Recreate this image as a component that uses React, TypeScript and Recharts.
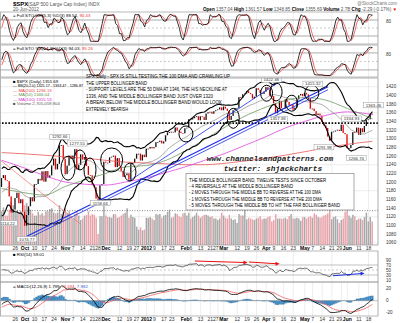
import React from "react";
import { ComposedChart, Line, Bar, XAxis, YAxis, CartesianGrid, ReferenceLine, ReferenceDot, Cell } from "recharts";

// ---------------- data (S&P 500 daily closes) ----------------
const closesAug2011 = [1286.94, 1254.05, 1260.34, 1200.07, 1199.38, 1119.46, 1172.53, 1120.76, 1172.64, 1178.81, 1204.49, 1192.76, 1193.89, 1140.65, 1123.53, 1123.82, 1162.35, 1177.6, 1159.27, 1176.8, 1210.08, 1212.92, 1218.89];
const closesSep2011 = [1204.42, 1173.97, 1165.24, 1198.62, 1185.9, 1154.23, 1162.27, 1172.87, 1188.68, 1209.11, 1216.01, 1204.09, 1202.09, 1166.76, 1129.56, 1136.43, 1162.95, 1175.38, 1151.06, 1160.4, 1131.42];
const closesOct2011 = [1099.23, 1123.95, 1144.03, 1164.97, 1155.46, 1194.89, 1195.54, 1207.25, 1203.66, 1224.58, 1200.86, 1225.38, 1209.88, 1215.39, 1238.25, 1254.19, 1229.05, 1242.0, 1284.59, 1285.09, 1253.3];
const closesNov2011 = [1218.28, 1237.9, 1261.15, 1253.23, 1261.12, 1275.92, 1229.1, 1239.7, 1263.85, 1251.78, 1257.81, 1236.91, 1216.13, 1215.65, 1192.98, 1188.04, 1161.79, 1158.67, 1192.55, 1195.19, 1246.96];
const closesDec2011 = [1244.58, 1244.28, 1257.08, 1258.47, 1261.01, 1234.35, 1255.19, 1236.47, 1225.73, 1211.82, 1215.75, 1219.66, 1205.35, 1241.3, 1243.72, 1254.0, 1265.33, 1265.43, 1249.64, 1263.02, 1257.6];
const closesJan2012 = [1277.06, 1277.3, 1281.06, 1277.81, 1280.7, 1292.08, 1292.48, 1295.5, 1289.09, 1293.67, 1308.04, 1314.5, 1315.38, 1316.0, 1314.65, 1326.06, 1318.43, 1316.33, 1313.01, 1312.41];
const closesFeb2012 = [1324.09, 1325.54, 1344.9, 1344.33, 1347.05, 1349.96, 1351.95, 1342.64, 1351.77, 1350.5, 1343.23, 1358.04, 1361.23, 1362.21, 1357.66, 1363.46, 1365.74, 1367.59, 1372.18, 1365.68];
const closesMar2012 = [1374.09, 1369.63, 1364.33, 1343.36, 1352.63, 1365.91, 1370.87, 1371.09, 1395.95, 1394.28, 1402.6, 1404.17, 1409.75, 1405.52, 1402.89, 1392.78, 1397.11, 1416.51, 1412.52, 1405.54, 1403.28, 1408.47];
const closesApr2012 = [1419.04, 1413.38, 1398.96, 1398.08, 1382.2, 1358.59, 1368.71, 1387.57, 1370.26, 1369.57, 1390.78, 1385.14, 1376.92, 1378.53, 1366.94, 1371.97, 1390.69, 1399.98, 1403.36, 1397.91];
const closesMay2012 = [1405.82, 1402.31, 1391.57, 1369.1, 1369.58, 1363.72, 1354.58, 1357.99, 1353.39, 1338.35, 1330.66, 1324.8, 1304.86, 1295.22, 1315.99, 1316.63, 1318.86, 1320.68, 1317.82, 1332.42, 1313.32, 1310.33];
const closesJun2012 = [1278.04, 1278.18, 1285.5, 1315.13, 1314.99, 1325.66, 1308.93, 1324.18, 1314.88, 1329.1, 1342.84, 1344.78, 1357.98, 1355.69];

// volume, billions
const volSep2011 = [4.2, 4.5, 4.3, 4.4, 4.6, 4.6, 4.0, 4.1, 4.3, 4.6, 5.1, 4.0, 4.0, 4.8, 5.9, 5.4, 4.6, 4.7, 4.4, 4.6, 4.6];
const volOct2011 = [5.4, 5.7, 5.0, 4.8, 4.3, 4.0, 4.0, 4.5, 4.1, 4.3, 4.0, 4.6, 4.6, 4.9, 5.0, 4.4, 4.3, 4.4, 5.4, 4.2, 4.5];
const volNov2011 = [5.0, 4.3, 4.6, 3.9, 3.6, 4.2, 4.5, 4.0, 3.4, 3.6, 4.0, 4.1, 4.6, 4.0, 4.2, 4.1, 3.7, 1.5, 3.9, 3.9, 5.4];
const volDec2011 = [4.0, 3.8, 3.8, 3.7, 4.2, 4.2, 3.7, 3.8, 4.0, 4.2, 4.4, 5.0, 3.7, 4.1, 3.8, 3.7, 2.5, 2.1, 2.4, 2.0, 2.1];
const volJan2012 = [3.7, 3.7, 3.8, 3.6, 3.4, 4.2, 4.1, 4.2, 3.7, 4.0, 4.1, 4.5, 4.8, 3.7, 3.8, 4.3, 4.2, 3.9, 3.8, 4.3];
const volFeb2012 = [4.4, 4.0, 4.4, 3.6, 3.8, 4.0, 4.4, 4.0, 3.7, 3.9, 4.1, 4.1, 4.0, 3.8, 3.9, 3.6, 3.6, 3.4, 3.6, 4.4];
const volMar2012 = [4.0, 3.7, 3.6, 4.1, 3.6, 3.4, 3.5, 3.0, 4.2, 4.0, 4.0, 5.0, 3.5, 3.7, 3.6, 3.5, 3.4, 3.6, 3.7, 3.9, 3.5, 3.6];
const volApr2012 = [3.6, 3.8, 3.9, 3.2, 3.4, 4.2, 3.6, 3.6, 3.6, 3.6, 3.7, 3.5, 3.9, 4.2, 3.6, 3.6, 3.7, 3.6, 3.3, 3.8];
const volMay2012 = [3.8, 3.6, 3.8, 3.9, 3.7, 4.3, 4.1, 3.8, 3.7, 3.8, 4.0, 4.1, 4.3, 4.8, 3.5, 3.8, 3.9, 3.5, 3.0, 3.4, 3.6, 4.5];
const volJun2012 = [4.7, 4.0, 3.7, 4.1, 3.9, 3.4, 3.6, 3.6, 3.4, 3.8, 4.4, 3.2, 3.8, 3.2];

// moving averages (sparse, by trading-day index)
const maIdx = [-7, 5, 15, 26, 36, 47, 57, 68, 78, 88, 98, 108, 118, 130, 140, 150, 160, 172, 185];
const ma50Vals = [1185, 1175, 1170, 1190, 1205, 1220, 1235, 1238, 1250, 1272, 1298, 1325, 1350, 1373, 1388, 1395, 1390, 1370, 1346];
const ma100Vals = [1250, 1232, 1215, 1200, 1195, 1193, 1200, 1210, 1222, 1235, 1250, 1265, 1283, 1305, 1325, 1340, 1353, 1362, 1355.5];
const ma200Vals = [1268, 1265, 1262, 1258, 1255, 1250, 1246, 1244, 1242, 1240, 1240, 1243, 1248, 1255, 1262, 1270, 1278, 1287, 1294];

// x-axis ticks (trading-day index) and labels
const tickIdx = [0, 5, 10, 15, 20, 26, 30, 35, 40, 44, 47, 54, 59, 64, 68, 72, 77, 81, 88, 91, 96, 101, 105, 108, 115, 120, 125, 130, 134, 139, 144, 150, 154, 159, 164, 169, 172, 178, 183];
const tickText = ["26", "Oct", "10", "17", "24", "Nov", "7", "14", "21", "28", "Dec", "12", "19", "27", "2012", "9", "17", "23", "Feb", "6", "13", "21", "27", "Mar", "12", "19", "26", "Apr", "9", "16", "23", "May", "7", "14", "21", "29", "Jun", "11", "18"];
const monthLabels = ["Oct", "Nov", "Dec", "2012", "Feb", "Mar", "Apr", "May", "Jun"];

const priceTicks = [1060, 1080, 1100, 1120, 1140, 1160, 1180, 1200, 1220, 1240, 1260, 1280, 1300, 1320, 1340, 1360, 1380, 1400, 1420];

// annotations
const tests = [
  { i: 27.3, p: 1232, rx: 7, ry: 12 },
  { i: 33.5, p: 1251, rx: 6, ry: 10 },
  { i: 38.7, p: 1228, rx: 6, ry: 12 },
  { i: 49.9, p: 1251, rx: 11, ry: 12 },
  { i: 59.4, p: 1223, rx: 6, ry: 9 },
  { i: 88.4, p: 1311, rx: 7, ry: 8 },
  { i: 112.9, p: 1347, rx: 6, ry: 10 },
  { i: 130.2, p: 1405, rx: 6, ry: 8 },
  { i: 135.1, p: 1408, rx: 6, ry: 9 },
  { i: 143.2, p: 1382, rx: 6, ry: 8 },
  { i: 153.6, p: 1405, rx: 7, ry: 8 },
];
const tags = [
  { i: -2, p: 1114.22, t: "1114.22", dx: -4, dy: 4 },
  { i: 6, p: 1074.77, t: "1074.77", dx: 0, dy: 3 },
  { i: 23, p: 1292.66, t: "1292.66", dx: 0, dy: -5 },
  { i: 31, p: 1277.55, t: "1277.55", dx: 2, dy: -5 },
  { i: 43, p: 1158.66, t: "1158.66", dx: 2, dy: 3 },
  { i: 130, p: 1422.38, t: "1422.38", dx: 5, dy: -6 },
  { i: 136, p: 1357.38, t: "1357.38", dx: 0, dy: 5 },
  { i: 150, p: 1415.32, t: "1415.32", dx: 8, dy: -5 },
  { i: 163, p: 1291.98, t: "1291.98", dx: -6, dy: 5 },
  { i: 169, p: 1334.93, t: "1334.93", dx: 10, dy: -5 },
  { i: 173, p: 1266.74, t: "1266.74", dx: 7, dy: 5 },
  { i: 184, p: 1363.46, t: "1363.46", dx: 3, dy: -6 },
];

// ---------------- derived series ----------------
const closes = [...closesAug2011, ...closesSep2011, ...closesOct2011, ...closesNov2011, ...closesDec2011, ...closesJan2012, ...closesFeb2012, ...closesMar2012, ...closesApr2012, ...closesMay2012, ...closesJun2012];
const volumes: (number | null)[] = [...closesAug2011.map(() => null), ...volSep2011, ...volOct2011, ...volNov2011, ...volDec2011, ...volJan2012, ...volFeb2012, ...volMar2012, ...volApr2012, ...volMay2012, ...volJun2012];
const OFF = closesAug2011.length + 16;

function sma(src: (number | null)[], n: number): (number | null)[] {
  return src.map((_, i) => {
    if (i < n - 1) return null;
    let s = 0;
    for (let k = i - n + 1; k <= i; k++) {
      const v = src[k];
      if (v == null) return null;
      s += v;
    }
    return s / n;
  });
}
function stdev(src: number[], n: number): (number | null)[] {
  return src.map((_, i) => {
    if (i < n - 1) return null;
    const w = src.slice(i - n + 1, i + 1);
    const m = w.reduce((a, b) => a + b, 0) / n;
    return Math.sqrt(w.reduce((a, b) => a + (b - m) * (b - m), 0) / n);
  });
}
function rawStoch(n: number): (number | null)[] {
  return closes.map((c, i) => {
    if (i < n - 1) return null;
    const w = closes.slice(i - n + 1, i + 1);
    const hi = Math.max(...w), lo = Math.min(...w);
    return hi === lo ? 50 : (100 * (c - lo)) / (hi - lo);
  });
}
function ema(src: number[], n: number): number[] {
  const k = 2 / (n + 1);
  const out: number[] = [];
  src.forEach((v, i) => out.push(i === 0 ? v : v * k + out[i - 1] * (1 - k)));
  return out;
}
const mid = sma(closes, 20);
const sd = stdev(closes, 20);
const k5 = sma(rawStoch(5), 3);
const d5 = sma(k5, 3);
const k14 = sma(rawStoch(14), 3);
const d14 = sma(k14, 3);
const rsi: (number | null)[] = closes.map(() => null);
{
  let ag = 0, al = 0;
  for (let i = 1; i <= 14; i++) {
    const d = closes[i] - closes[i - 1];
    if (d > 0) ag += d; else al -= d;
  }
  ag /= 14; al /= 14;
  rsi[14] = 100 - 100 / (1 + ag / al);
  for (let i = 15; i < closes.length; i++) {
    const d = closes[i] - closes[i - 1];
    ag = (ag * 13 + Math.max(d, 0)) / 14;
    al = (al * 13 + Math.max(-d, 0)) / 14;
    rsi[i] = 100 - 100 / (1 + ag / al);
  }
}
const e12 = ema(closes, 12), e26 = ema(closes, 26);
const macd = e12.map((v, i) => v - e26[i]);
const sig = ema(macd, 9);

const rows: any[] = [];
for (let j = 1; j < closes.length; j++) {
  const i = j - OFF;
  if (i < -7) continue;
  const c = closes[j], o = closes[j - 1];
  const mi = maIdx.indexOf(i);
  rows.push({
    i,
    body: [Math.min(o, c), Math.max(o, c)],
    up: c >= o,
    vol: volumes[j],
    bbM: mid[j],
    bbU: mid[j] != null && sd[j] != null ? (mid[j] as number) + 2 * (sd[j] as number) : null,
    bbL: mid[j] != null && sd[j] != null ? (mid[j] as number) - 2 * (sd[j] as number) : null,
    ma50: mi >= 0 ? ma50Vals[mi] : null,
    ma100: mi >= 0 ? ma100Vals[mi] : null,
    ma200: mi >= 0 ? ma200Vals[mi] : null,
    k5: k5[j], d5: d5[j], k14: k14[j], d14: d14[j],
    rsi: rsi[j],
    macd: macd[j], sig: sig[j], hist: macd[j] - sig[j],
  });
}

// ---------------- layout ----------------
const XDOM: [number, number] = [-7.93, 187.9];
const FONT = "Liberation Sans, Arial, sans-serif";
const AX = 22;

const XTick = (p: any) => {
  const k = tickIdx.indexOf(p.payload.value);
  const label = tickText[k] ?? "";
  const bold = monthLabels.includes(label);
  const nextClose = k + 1 < tickIdx.length && tickIdx[k + 1] - tickIdx[k] <= 4 && monthLabels.includes(tickText[k + 1]);
  return (
    <text x={nextClose ? p.x + 0.5 : p.x} y={p.y} dy={4.6} textAnchor={nextClose ? "end" : "middle"} fontSize={5} fontFamily={FONT} fontWeight={bold ? 700 : 400} fill={bold ? "#000" : "#333"}>
      {label}
    </text>
  );
};
const YTick = (p: any) => (
  <text x={p.x} y={p.y} dy={1.6} textAnchor="start" fontSize={4.6} fontFamily={FONT} fill="#333">
    {p.payload.value}
  </text>
);

const Candle = (p: any) => {
  const { x, y, width, height, payload } = p;
  if (x == null || y == null) return null;
  const h = Math.max(Math.abs(height || 0), 0.8);
  const top = height < 0 ? y + height : y;
  return <rect x={x} y={top} width={width} height={h} fill={payload.up ? "#111" : "#e00000"} />;
};

const ellipseShape = (rx: number, ry: number) => (p: any) => (
  <ellipse cx={p.cx} cy={p.cy} rx={rx} ry={ry} fill="none" stroke="#000" strokeWidth={1} />
);
const tagShape = (t: string, dx: number, dy: number) => (p: any) => {
  const w = t.length * 2.55 + 2;
  return (
    <g>
      <rect x={p.cx + dx - w / 2} y={p.cy + dy - 2.6} width={w} height={5.2} fill="#fff" stroke="#999" strokeWidth={0.5} />
      <text x={p.cx + dx} y={p.cy + dy + 1.6} textAnchor="middle" fontSize={4.3} fontFamily={FONT} fill="#333">{t}</text>
    </g>
  );
};
const arrowHead = (color: string) => (p: any) => (
  <polygon points={`${p.cx + 2.5},${p.cy} ${p.cx - 1.5},${p.cy - 2} ${p.cx - 1.5},${p.cy + 2}`} fill={color} />
);

const Stoch = ({ top, k, d, dom }: { top: number; k: string; d: string; dom: [number, number] }) => (
  <div style={{ position: "absolute", left: 0, top }}>
    <ComposedChart width={400} height={32} data={rows} margin={{ top: 0, right: 0, bottom: 0, left: 0 }}>
      <CartesianGrid horizontal={false} stroke="#e2e2e2" strokeWidth={0.6} />
      <XAxis dataKey="i" type="number" domain={XDOM} ticks={tickIdx} hide allowDataOverflow />
      <YAxis orientation="right" width={AX} domain={dom} ticks={[20, 50, 80]} tick={<YTick />} tickLine={false} axisLine={false} tickMargin={2} allowDataOverflow />
      <ReferenceLine y={80} stroke="#888" strokeWidth={0.7} />
      <ReferenceLine y={20} stroke="#888" strokeWidth={0.7} />
      <ReferenceLine y={50} stroke="#aaa" strokeWidth={0.6} strokeDasharray="2 2" />
      <Line dataKey={d} stroke="#f04848" strokeWidth={0.8} dot={false} isAnimationActive={false} />
      <Line dataKey={k} stroke="#000" strokeWidth={0.8} dot={false} isAnimationActive={false} />
    </ComposedChart>
  </div>
);

const L = ({ x, y, children, fill = "#000", size = 4.4, weight = 400, len }: any) => (
  <text x={x} y={y} fontSize={size} fontFamily={FONT} fill={fill} fontWeight={weight} textLength={len} lengthAdjust={len ? "spacingAndGlyphs" : undefined}>{children}</text>
);

const box1 = [
  { t: "SPX Daily - SPX IS STILL TESTING THE 100 DMA AND CRAWLING UP", w: 144 },
  { t: "THE UPPER BOLLINGER BAND", w: 61 },
  { t: "- SUPPORT LEVELS ARE THE 50 DMA AT 1346, THE H/S NECKLINE AT", w: 141 },
  { t: "1336, AND THE MIDDLE BOLLINGER BAND JUST OVER 1320", w: 127 },
  { t: "A BREAK BELOW THE MIDDLE BOLLINGER BAND WOULD LOOK", w: 136 },
  { t: "EXTREMELY BEARISH", w: 42 },
];
const box2 = [
  { t: "THE MIDDLE BOLLINGER BAND, TWELVE TESTS SINCE OCTOBER", w: 137 },
  { t: "- 4 REVERSALS AT THE MIDDLE BOLLINGER BAND", w: 104 },
  { t: "- 2 MOVES THROUGH THE MIDDLE BB TO REVERSE AT THE 100 DMA", w: 132 },
  { t: "- 1 MOVES THROUGH THE MIDDLE BB TO REVERSE AT THE 200 DMA", w: 133 },
  { t: "- 5 MOVES THROUGH THE MIDDLE BB TO HIT THE FAR BOLLINGER BAND", w: 151 },
];

export default function App() {
  return (
    <div style={{ position: "absolute", left: 0, top: 0, width: 400, height: 323, background: "#fff", overflow: "hidden", fontFamily: FONT }}>
      <Stoch top={12} k="k5" d="d5" dom={[-10, 110]} />
      <Stoch top={45} k="k14" d="d14" dom={[-5, 108]} />

      {/* price panel: grid + volume layer */}
      <div style={{ position: "absolute", left: 0, top: 78 }}>
        <ComposedChart width={400} height={175} data={rows} margin={{ top: 0, right: AX, bottom: 8, left: 0 }}>
          <CartesianGrid yAxisId="p" stroke="#e2e2e2" strokeWidth={0.6} />
          <XAxis dataKey="i" type="number" domain={XDOM} ticks={tickIdx} hide allowDataOverflow />
          <YAxis yAxisId="p" hide domain={[1054.7, 1440.1]} ticks={priceTicks} allowDataOverflow />
          <YAxis yAxisId="v" hide domain={[0, 22.7]} allowDataOverflow />
          <Bar yAxisId="v" dataKey="vol" barSize={1.5} isAnimationActive={false}>
            {rows.map((r, k) => (
              <Cell key={k} fill={r.up ? "#a9a9a9" : "#e8a4ab"} />
            ))}
          </Bar>
        </ComposedChart>
      </div>

      {/* price panel: price layer */}
      <div style={{ position: "absolute", left: 0, top: 78 }}>
        <ComposedChart width={400} height={175} data={rows} margin={{ top: 0, right: 0, bottom: 0, left: 0 }}>
          <XAxis dataKey="i" type="number" domain={XDOM} ticks={tickIdx} interval={0} tick={<XTick />} tickLine={false} axisLine={false} tickSize={0} tickMargin={0} height={8} allowDataOverflow />
          <YAxis yAxisId="p" orientation="right" width={AX} domain={[1054.7, 1440.1]} ticks={priceTicks} interval={0} tick={<YTick />} tickLine={false} axisLine={false} tickMargin={2} allowDataOverflow />
          <ReferenceLine yAxisId="p" y={1134} stroke="#555" strokeWidth={0.7} strokeDasharray="1 1.5" />
          <ReferenceLine yAxisId="p" y={1336} stroke="#000" strokeWidth={1.6} strokeDasharray="1.6 1.6" />
          <Line yAxisId="p" dataKey="ma200" stroke="#e85858" strokeWidth={0.8} dot={false} connectNulls type="monotone" isAnimationActive={false} />
          <Line yAxisId="p" dataKey="ma100" stroke="#e044e0" strokeWidth={0.8} dot={false} connectNulls type="monotone" isAnimationActive={false} />
          <Line yAxisId="p" dataKey="ma50" stroke="#6f9a5f" strokeWidth={0.8} dot={false} connectNulls type="monotone" isAnimationActive={false} />
          <Line yAxisId="p" dataKey="bbM" stroke="#777" strokeWidth={0.6} dot={false} isAnimationActive={false} />
          <Line yAxisId="p" dataKey="bbU" stroke="#000" strokeWidth={1.1} dot={false} isAnimationActive={false} />
          <Line yAxisId="p" dataKey="bbL" stroke="#000" strokeWidth={1.1} dot={false} isAnimationActive={false} />
          <ReferenceLine yAxisId="p" segment={[{ x: -7.9, y: 1251 }, { x: 33.5, y: 1104 }]} stroke="#f07070" strokeWidth={0.7} ifOverflow="visible" />
          <ReferenceLine yAxisId="p" segment={[{ x: 6, y: 1074.77 }, { x: 162, y: 1420 }]} stroke="#1a2fe6" strokeWidth={1.2} ifOverflow="visible" />
          <ReferenceLine yAxisId="p" segment={[{ x: 6, y: 1068 }, { x: 162, y: 1413 }]} stroke="#1a2fe6" strokeWidth={0.8} ifOverflow="visible" />
          <ReferenceLine yAxisId="p" segment={[{ x: 59, y: 1202.37 }, { x: 137, y: 1432 }]} stroke="#1a2fe6" strokeWidth={0.8} ifOverflow="visible" />
          <Bar yAxisId="p" dataKey="body" barSize={1.3} shape={<Candle />} isAnimationActive={false} />
          {tests.map((e, k) => (
            <ReferenceDot key={"e" + k} yAxisId="p" x={e.i} y={e.p} r={1} shape={ellipseShape(e.rx, e.ry)} ifOverflow="visible" />
          ))}
          {tags.map((g, k) => (
            <ReferenceDot key={"t" + k} yAxisId="p" x={g.i} y={g.p} r={1} shape={tagShape(g.t, g.dx, g.dy)} ifOverflow="visible" />
          ))}
        </ComposedChart>
      </div>

      {/* RSI */}
      <div style={{ position: "absolute", left: 0, top: 251 }}>
        <ComposedChart width={400} height={31} data={rows} margin={{ top: 0, right: 0, bottom: 0, left: 0 }}>
          <CartesianGrid horizontal={false} stroke="#e2e2e2" strokeWidth={0.6} />
          <XAxis dataKey="i" type="number" domain={XDOM} ticks={tickIdx} hide allowDataOverflow />
          <YAxis orientation="right" width={AX} domain={[2, 126]} ticks={[10, 30, 50, 70, 90]} interval={0} tick={<YTick />} tickLine={false} axisLine={false} tickMargin={2} allowDataOverflow />
          <ReferenceLine y={70} stroke="#999" strokeWidth={0.6} />
          <ReferenceLine y={30} stroke="#999" strokeWidth={0.6} />
          <ReferenceLine y={50} stroke="#aaa" strokeWidth={0.6} strokeDasharray="2 2" />
          <Line dataKey="rsi" stroke="#333" strokeWidth={0.7} dot={false} isAnimationActive={false} />
          <ReferenceLine segment={[{ x: 93, y: 86 }, { x: 119, y: 80 }]} stroke="#e81010" strokeWidth={1} ifOverflow="visible" />
          <ReferenceDot x={119} y={80} r={1} shape={arrowHead("#e81010")} ifOverflow="visible" />
          <ReferenceLine segment={[{ x: 121, y: 82 }, { x: 135.6, y: 75 }]} stroke="#e81010" strokeWidth={1} ifOverflow="visible" />
          <ReferenceDot x={135.6} y={75} r={1} shape={arrowHead("#e81010")} ifOverflow="visible" />
          <ReferenceLine segment={[{ x: 164.6, y: 27 }, { x: 179.6, y: 36 }]} stroke="#1a2fe6" strokeWidth={1} ifOverflow="visible" />
          <ReferenceDot x={179.6} y={36} r={1} shape={arrowHead("#1a2fe6")} ifOverflow="visible" />
        </ComposedChart>
      </div>

      {/* MACD */}
      <div style={{ position: "absolute", left: 0, top: 282 }}>
        <ComposedChart width={400} height={42} data={rows} margin={{ top: 0, right: 0, bottom: 0, left: 0 }}>
          <CartesianGrid horizontal={false} stroke="#e2e2e2" strokeWidth={0.6} />
          <XAxis dataKey="i" type="number" domain={XDOM} ticks={tickIdx} interval={0} tick={<XTick />} tickLine={false} axisLine={false} tickSize={0} tickMargin={0} height={8} allowDataOverflow />
          <YAxis orientation="right" width={AX} domain={[-25.5, 31]} ticks={[-20, 0, 20]} interval={0} tick={<YTick />} tickLine={false} axisLine={false} tickMargin={2} allowDataOverflow />
          <ReferenceLine y={0} stroke="#999" strokeWidth={0.6} />
          <Bar dataKey="hist" barSize={1.9} fill="#3f8ecb" stroke="#2a5f8a" strokeWidth={0.2} isAnimationActive={false} />
          <Line dataKey="sig" stroke="#f06060" strokeWidth={0.8} dot={false} isAnimationActive={false} />
          <Line dataKey="macd" stroke="#000" strokeWidth={0.8} dot={false} isAnimationActive={false} />
        </ComposedChart>
      </div>

      {/* overlay: frames, header, legends, notes */}
      <svg width={400} height={323} style={{ position: "absolute", left: 0, top: 0, pointerEvents: "none" }}>
        <g fill="none" stroke="#9a9a9a" strokeWidth={0.7}>
          <rect x={0.4} y={12} width={377.6} height={32} />
          <rect x={0.4} y={45} width={377.6} height={32} />
          <rect x={0.4} y={78} width={377.6} height={167} />
          <rect x={0.4} y={251} width={377.6} height={31} />
          <rect x={0.4} y={282} width={377.6} height={34} />
        </g>

        <L x={13} y={6} size={6} weight={700}>$SPX</L>
        <L x={28} y={6} size={4.8} fill="#555">(S&amp;P 500 Large Cap Index) INDX</L>
        <L x={13} y={11} size={4.6} fill="#555">20-Jun-2012</L>
        <text x={397} y={5} textAnchor="end" fontSize={4.6} fontFamily={FONT} fill="#777">@StockCharts.com</text>
        <text x={397} y={11} textAnchor="end" fontSize={4.6} fontFamily={FONT} fill="#555">
          <tspan fontWeight={700} fill="#000">Open</tspan> 1357.04 <tspan fontWeight={700} fill="#000">High</tspan> 1361.57 <tspan fontWeight={700} fill="#000">Low</tspan> 1348.85 <tspan fontWeight={700} fill="#000">Close</tspan> 1355.69 <tspan fontWeight={700} fill="#000">Volume</tspan> 2.7B <tspan fontWeight={700} fill="#000">Chg</tspan> -2.29 (-0.17%) <tspan fill="#e00">▼</tspan>
        </text>

        <L x={13} y={17} size={4.4}>= Full STO %K(5,3) %D(3) 88.54, <tspan fill="#e33">90.43</tspan></L>
        <L x={13} y={50} size={4.4}>= Full STO %K(14,3) %D(3) 94.03, <tspan fill="#e33">95.26</tspan></L>

        <L x={13} y={82.5} size={4.3}>■ $SPX (Daily) 1355.69</L>
        <L x={13} y={87} size={4.3} len={70}>— BB(20,2.0) 1325.17 - 1363.47 - 1286.87</L>
        <L x={13} y={91.5} size={4.3} fill="#e04040">— MA(200) 1294.13</L>
        <L x={13} y={96} size={4.3} fill="#5e8e4e">— MA(50) 1346.04</L>
        <L x={13} y={100.5} size={4.3} fill="#d030d0">— MA(100) 1355.53</L>
        <L x={13} y={105} size={4.3} fill="#555">■ Volume 2,705,059,904</L>

        {box1.map((b, k) => (
          <text key={"b1" + k} x={86} y={78 + k * 6.6} fontSize={5.2} fontFamily={FONT} fill="#000" textLength={b.w} lengthAdjust="spacingAndGlyphs">{b.t}</text>
        ))}

        <rect x={186} y={173.5} width={168} height={36.5} fill="#fff" stroke="#888" strokeWidth={0.7} />
        {box2.map((b, k) => (
          <text key={"b2" + k} x={189} y={181.5 + k * 6.4} fontSize={5.2} fontFamily={FONT} fill="#000" textLength={b.w} lengthAdjust="spacingAndGlyphs">{b.t}</text>
        ))}

        <text x={270} y={161} textAnchor="middle" fontSize={7.8} fontFamily="Liberation Mono, monospace" fontStyle="italic" fontWeight={700} fill="#222">www.channelsandpatterns.com</text>
        <text x={273} y={171} textAnchor="middle" fontSize={7.8} fontFamily="Liberation Mono, monospace" fontStyle="italic" fontWeight={700} fill="#222">twitter: shjackcharts</text>

        <L x={13} y={256} size={4.4}>■ RSI(14) 59.01</L>
        <L x={13} y={288} size={4.4}>= MACD(12,26,9) 1.799, <tspan fill="#e33">-6.184</tspan>, <tspan fill="#36c">7.982</tspan></L>
      </svg>
    </div>
  );
}
